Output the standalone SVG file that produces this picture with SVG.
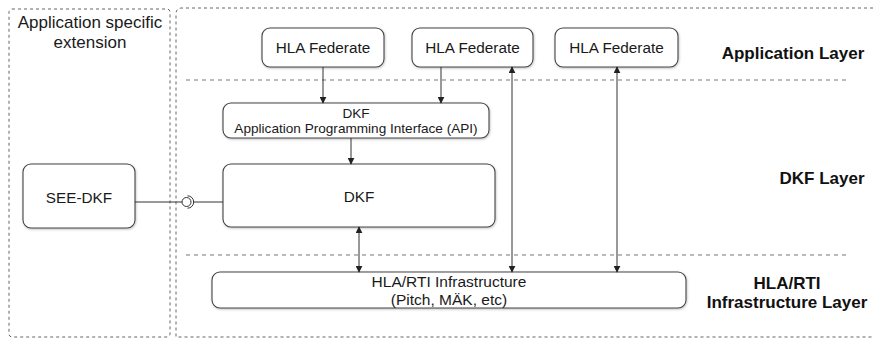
<svg xmlns="http://www.w3.org/2000/svg" width="873" height="339" viewBox="0 0 873 339">
  <defs>
    <marker id="arr" viewBox="0 0 10 10" refX="9" refY="5" markerWidth="7" markerHeight="7" orient="auto-start-reverse" markerUnits="userSpaceOnUse">
      <path d="M0,0 L10,5 L0,10 z" fill="#222"/>
    </marker>
    <filter id="shadow" x="-5%" y="-10%" width="110%" height="130%">
      <feDropShadow dx="0.6" dy="1" stdDeviation="0.8" flood-color="#000" flood-opacity="0.25"/>
    </filter>
  </defs>
  <style>
    .zone { fill: none; stroke: #666; stroke-width: 1; stroke-dasharray: 3 3; }
    .sep { fill: none; stroke: #777; stroke-width: 1; stroke-dasharray: 4 4; }
    .box { fill: #fff; stroke: #444; stroke-width: 1.1; filter: url(#shadow); }
    .lbl { font-family: "Liberation Sans", Arial, sans-serif; fill: #1a1a1a; text-anchor: middle; }
    .layer { font-family: "Liberation Sans", Arial, sans-serif; fill: #111; font-weight: bold; font-size: 17px; text-anchor: middle; }
    .wire { fill: none; stroke: #333; stroke-width: 1; }
    .arrow { fill: none; stroke: #333; stroke-width: 1; marker-end: url(#arr); }
    .both { fill: none; stroke: #333; stroke-width: 1; marker-start: url(#arr); marker-end: url(#arr); }
  </style>

  <rect width="873" height="339" fill="#fff"/>

  <!-- extension zone and layered architecture zone -->
  <g id="zones">
    <rect class="zone" x="9" y="9" width="161" height="328" rx="3"/>
    <path class="zone" d="M873,8 L182,8 Q176,8 176,14 L176,337 L873,337"/>
    <line class="sep" x1="186" y1="80" x2="847" y2="80"/>
    <line class="sep" x1="186" y1="255" x2="848" y2="255"/>
  </g>

  <!-- layer titles -->
  <g id="layer-titles">
    <text class="lbl" x="90" y="28" font-size="17">Application specific</text>
    <text class="lbl" x="90" y="47.5" font-size="17">extension</text>
    <text class="layer" x="793" y="59">Application Layer</text>
    <text class="layer" x="822" y="184">DKF Layer</text>
    <text class="layer" x="787" y="289">HLA/RTI</text>
    <text class="layer" x="787" y="308">Infrastructure Layer</text>
  </g>

  <g id="federate1">
    <rect class="box" x="262" y="28" width="122" height="39" rx="8"/>
    <text class="lbl" x="323" y="53" font-size="15.3">HLA Federate</text>
  </g>
  <g id="federate2">
    <rect class="box" x="412" y="28" width="121" height="39" rx="8"/>
    <text class="lbl" x="472.5" y="53" font-size="15.3">HLA Federate</text>
  </g>
  <g id="federate3">
    <rect class="box" x="555" y="28" width="123" height="39" rx="8"/>
    <text class="lbl" x="616.5" y="53" font-size="15.3">HLA Federate</text>
  </g>

  <g id="dkf-api">
    <rect class="box" x="223" y="103" width="266" height="35" rx="8"/>
    <text class="lbl" x="356" y="118" font-size="13.6">DKF</text>
    <text class="lbl" x="356" y="133" font-size="13.6">Application Programming Interface (API)</text>
  </g>

  <g id="dkf">
    <rect class="box" x="223" y="164" width="272" height="63" rx="8"/>
    <text class="lbl" x="359" y="202" font-size="15.3">DKF</text>
  </g>

  <g id="see-dkf">
    <rect class="box" x="23" y="164" width="112" height="64" rx="8"/>
    <text class="lbl" x="79" y="203" font-size="15.3">SEE-DKF</text>
  </g>

  <g id="hla-rti">
    <rect class="box" x="212" y="272" width="474" height="36" rx="8"/>
    <text class="lbl" x="449" y="287" font-size="15.5">HLA/RTI Infrastructure</text>
    <text class="lbl" x="449" y="304.5" font-size="15.5">(Pitch, MÄK, etc)</text>
  </g>

  <g id="connectors">
    <line class="arrow" x1="323" y1="67" x2="323" y2="103"/>
    <line class="arrow" x1="441" y1="67" x2="441" y2="103"/>
    <line class="arrow" x1="351" y1="138" x2="351" y2="164"/>
    <line class="both" x1="359" y1="227" x2="359" y2="272"/>
    <line class="both" x1="512" y1="67" x2="512" y2="272"/>
    <line class="both" x1="617" y1="67" x2="617" y2="272"/>
    <!-- provided/required interface between SEE-DKF and DKF -->
    <line class="wire" x1="135" y1="202" x2="182" y2="202"/>
    <circle class="wire" cx="186.5" cy="202" r="4.5"/>
    <path class="wire" d="M187.5,195.8 A6.2,6.2 0 0 1 187.5,208.2"/>
    <line class="wire" x1="193.7" y1="202" x2="223" y2="202"/>
  </g>
</svg>
